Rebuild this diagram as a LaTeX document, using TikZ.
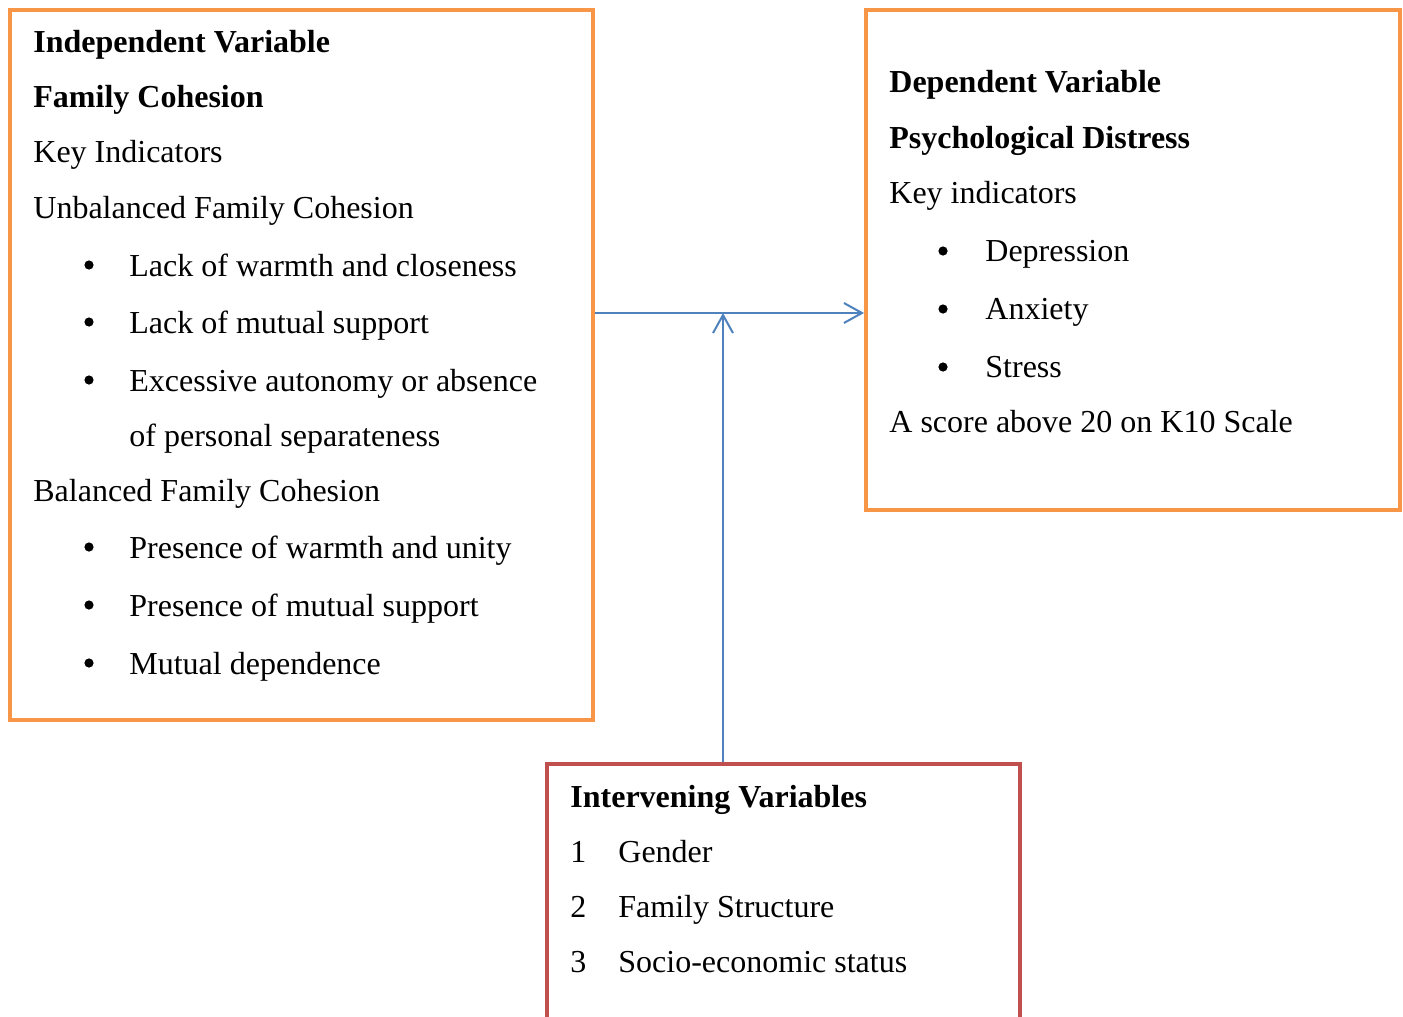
\documentclass[tikz,border=0pt]{standalone}
\usepackage{fontspec}
\setmainfont{Liberation Serif}
\usepackage{tikz}
\usetikzlibrary{arrows.meta, positioning, fit}
\definecolor{ivorange}{RGB}{247,150,70}
\definecolor{mvred}{RGB}{192,80,77}
\definecolor{linkblue}{RGB}{79,129,189}
\tikzset{
  ivbox/.style={rectangle, draw=ivorange, line width=2pt, inner sep=0pt},
  mvbox/.style={rectangle, draw=mvred, line width=2pt, inner sep=0pt},
  txt/.style={anchor=base west, inner sep=0pt, font=\fontsize{16pt}{19pt}\selectfont},
  head/.style={txt, font=\fontsize{16pt}{19pt}\selectfont\bfseries},
  bul/.style={circle, fill=black, inner sep=0pt, minimum size=4.6pt},
  link/.style={-{Straight Barb[length=9pt, width=10pt]}, line width=1pt, color=linkblue},
}
\begin{document}
\begin{tikzpicture}[x=0.5pt, y=-0.5pt]
  \useasboundingbox (0,0) rectangle (1403,1017);
  \clip (0,0) rectangle (1403,1017);

  % ── Boxes ────────────────────────────────────────────────────────────
  \node[ivbox, fit={(10,10) (593,720)}] (indep) {};
  \node[ivbox, fit={(866,10) (1400,510)}] (dep) {};
  \node[mvbox, fit={(547,764) (1020,1040)}] (interv) {};

  % ── Independent variable ─────────────────────────────────────────────
  \node[head] (i1) at (33,52) {Independent Variable};
  \node[head] (i2) at (33,107) {Family Cohesion};
  \node[txt] (i3) at (33,162) {Key Indicators};
  \node[txt] (i4) at (33,218) {Unbalanced Family Cohesion};
  \foreach \y/\t [count=\k] in {276/Lack of warmth and closeness,
                                333/Lack of mutual support,
                                391/Excessive autonomy or absence} {
    \node[bul] (ub\k) at (89,\y-11) {};
    \node[txt] (ut\k) at (129,\y) {\t};
  }
  \node[txt] (ut4) at (129,446) {of personal separateness};
  \node[txt] (i5) at (33,501) {Balanced Family Cohesion};
  \foreach \y/\t [count=\k] in {558/Presence of warmth and unity,
                                616/Presence of mutual support,
                                674/Mutual dependence} {
    \node[bul] (bb\k) at (89,\y-11) {};
    \node[txt] (bt\k) at (129,\y) {\t};
  }

  % ── Dependent variable ───────────────────────────────────────────────
  \node[head] (d1) at (889,92) {Dependent Variable};
  \node[head] (d2) at (889,148) {Psychological Distress};
  \node[txt] (d3) at (889,203) {Key indicators};
  \foreach \y/\t [count=\k] in {261/Depression, 319/Anxiety, 377/Stress} {
    \node[bul] (db\k) at (943,\y-10) {};
    \node[txt] (dt\k) at (985,\y) {\t};
  }
  \node[txt] (d4) at (889,432) {A score above 20 on K10 Scale};

  % ── Intervening variables ────────────────────────────────────────────
  \node[head] (m1) at (570,807) {Intervening Variables};
  \foreach \y/\t [count=\k] in {862/Gender, 917/Family Structure,
                                972/Socio-economic status} {
    \node[txt] (mn\k) at (570,\y) {\k};
    \node[txt] (mt\k) at (618,\y) {\t};
  }

  % ── Connectors ───────────────────────────────────────────────────────
  \coordinate (join) at (723,313);
  \draw[link] (indep.east |- join) -- (dep.west |- join);
  \draw[link] (interv.north -| join) -- (join);

\end{tikzpicture}
\end{document}
